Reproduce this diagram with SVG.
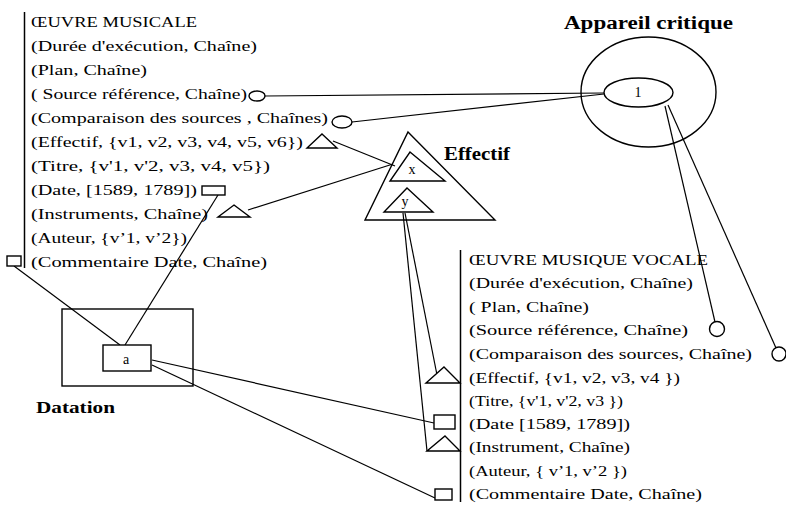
<svg xmlns="http://www.w3.org/2000/svg" width="786" height="505" viewBox="0 0 786 505">
<style>
.bg{fill:#fff}
.t{font-family:"Liberation Serif","Times New Roman",serif;font-size:14px;fill:#000}
.b{font-family:"Liberation Serif","Times New Roman",serif;font-weight:bold;fill:#000}
.s{fill:#fff;stroke:#000;stroke-width:1.4}
.ln{fill:none;stroke:#000;stroke-width:1.2}
.bar{stroke:#000;stroke-width:1.5}
</style>
<rect class="bg" x="0" y="0" width="786" height="505"/>

<g id="connectors">
  <line class="ln" x1="265" y1="96" x2="604" y2="93"/>
  <line class="ln" x1="352" y1="122" x2="604" y2="94"/>
  <line class="ln" x1="333" y1="141" x2="395" y2="166"/>
  <line class="ln" x1="248" y1="210" x2="393" y2="164"/>
  <line class="ln" x1="218" y1="195" x2="125" y2="345"/>
  <line class="ln" x1="14" y1="266" x2="120" y2="345"/>
  <line class="ln" x1="152" y1="360" x2="434" y2="423"/>
  <line class="ln" x1="152" y1="365" x2="435" y2="498"/>
  <line class="ln" x1="403" y1="213" x2="427" y2="451"/>
  <line class="ln" x1="405" y1="213" x2="437" y2="375"/>
  <line class="ln" x1="665" y1="106" x2="715" y2="322"/>
  <line class="ln" x1="668" y1="105" x2="776" y2="348"/>
</g>

<g id="oeuvre-musicale">
  <line class="bar" x1="24.5" y1="12" x2="24.5" y2="268"/>
  <text class="t" x="31" y="27" textLength="166" lengthAdjust="spacingAndGlyphs">ŒUVRE MUSICALE</text>
  <text class="t" x="31" y="51" textLength="226" lengthAdjust="spacingAndGlyphs">(Durée d'exécution, Chaîne)</text>
  <text class="t" x="31" y="75" textLength="116" lengthAdjust="spacingAndGlyphs">(Plan, Chaîne)</text>
  <text class="t" x="31" y="99" textLength="216" lengthAdjust="spacingAndGlyphs">( Source référence, Chaîne)</text>
  <text class="t" x="31" y="123" textLength="297" lengthAdjust="spacingAndGlyphs">(Comparaison des sources , Chaînes)</text>
  <text class="t" x="31" y="147" textLength="272" lengthAdjust="spacingAndGlyphs">(Effectif, {v1, v2, v3, v4, v5, v6})</text>
  <text class="t" x="31" y="171" textLength="239" lengthAdjust="spacingAndGlyphs">(Titre, {v'1, v'2, v3, v4, v5})</text>
  <text class="t" x="31" y="195" textLength="166" lengthAdjust="spacingAndGlyphs">(Date, [1589, 1789])</text>
  <text class="t" x="31" y="219" textLength="177" lengthAdjust="spacingAndGlyphs">(Instruments, Chaîne)</text>
  <text class="t" x="31" y="243" textLength="156" lengthAdjust="spacingAndGlyphs">(Auteur, {v’1, v’2})</text>
  <text class="t" x="31" y="267" textLength="236" lengthAdjust="spacingAndGlyphs">(Commentaire Date, Chaîne)</text>
  <ellipse class="s" cx="257" cy="96" rx="8" ry="5"/>
  <ellipse class="s" cx="342" cy="122" rx="10" ry="6"/>
  <polygon class="s" points="322,134 337,148 307,148"/>
  <rect class="s" x="202" y="186" width="23" height="9"/>
  <polygon class="s" points="234,205 250,217 218,217"/>
  <rect class="s" x="7" y="256" width="14" height="10"/>
</g>

<g id="oeuvre-musique-vocale">
  <line class="bar" x1="460.5" y1="250" x2="460.5" y2="502"/>
  <text class="t" x="469" y="265" textLength="239" lengthAdjust="spacingAndGlyphs">ŒUVRE MUSIQUE VOCALE</text>
  <text class="t" x="469" y="288" textLength="224" lengthAdjust="spacingAndGlyphs">(Durée d'exécution, Chaîne)</text>
  <text class="t" x="469" y="312" textLength="120" lengthAdjust="spacingAndGlyphs">( Plan, Chaîne)</text>
  <text class="t" x="469" y="335" textLength="219" lengthAdjust="spacingAndGlyphs">(Source référence, Chaîne)</text>
  <text class="t" x="469" y="359" textLength="283" lengthAdjust="spacingAndGlyphs">(Comparaison des sources, Chaîne)</text>
  <text class="t" x="469" y="383" textLength="211" lengthAdjust="spacingAndGlyphs">(Effectif, {v1, v2, v3, v4 })</text>
  <text class="t" x="469" y="406" textLength="154" lengthAdjust="spacingAndGlyphs">(Titre, {v'1, v'2, v3 })</text>
  <text class="t" x="469" y="429" textLength="161" lengthAdjust="spacingAndGlyphs">(Date [1589, 1789])</text>
  <text class="t" x="469" y="452" textLength="161" lengthAdjust="spacingAndGlyphs">(Instrument, Chaîne)</text>
  <text class="t" x="469" y="476" textLength="158" lengthAdjust="spacingAndGlyphs">(Auteur, { v’1, v’2 })</text>
  <text class="t" x="469" y="499" textLength="233" lengthAdjust="spacingAndGlyphs">(Commentaire Date, Chaîne)</text>
  <circle class="s" cx="717" cy="329" r="7.5"/>
  <circle class="s" cx="779" cy="354" r="7"/>
  <polygon class="s" points="444,367 460,383 426,383"/>
  <rect class="s" x="434" y="415" width="21" height="14"/>
  <polygon class="s" points="445,436 460,451 427,451"/>
  <rect class="s" x="435" y="489" width="17" height="11"/>
</g>

<g id="appareil-critique">
  <text class="b" x="564" y="29" font-size="18" textLength="169" lengthAdjust="spacingAndGlyphs">Appareil critique</text>
  <ellipse class="s" cx="648.5" cy="92" rx="67.5" ry="55" fill="none" style="fill:none"/>
  <ellipse class="s" cx="638.5" cy="92.5" rx="34.5" ry="14.5"/>
  <text class="t" x="638" y="97" font-size="13" text-anchor="middle">1</text>
</g>

<g id="effectif">
  <polygon class="s" points="408,132 495,220 365,220" style="fill:none"/>
  <polygon class="s" points="410,152 445,181 390,181"/>
  <text class="t" x="412" y="174" text-anchor="middle">x</text>
  <polygon class="s" points="407,188 433,212 384,212"/>
  <text class="t" x="405" y="206" text-anchor="middle">y</text>
  <text class="b" x="444" y="160" font-size="18" textLength="66" lengthAdjust="spacingAndGlyphs">Effectif</text>
</g>

<g id="datation">
  <rect class="s" x="62" y="309" width="131" height="77" style="fill:none"/>
  <rect class="s" x="103" y="345" width="48" height="26"/>
  <text class="t" x="126" y="364" text-anchor="middle">a</text>
  <text class="b" x="36" y="413" font-size="17" textLength="79" lengthAdjust="spacingAndGlyphs">Datation</text>
</g>
</svg>
